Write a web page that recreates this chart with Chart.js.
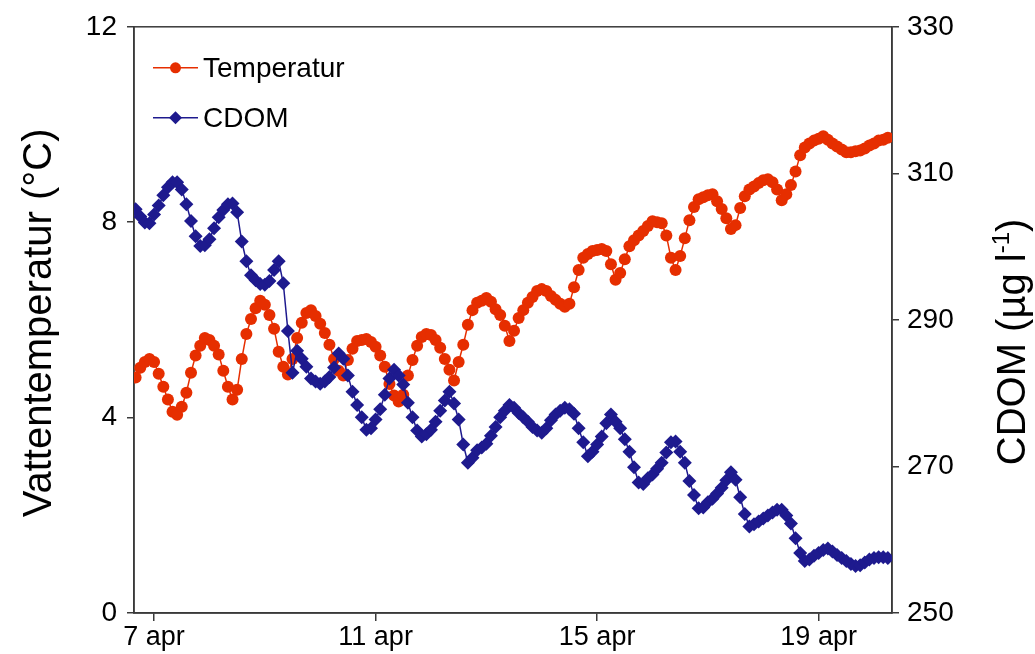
<!DOCTYPE html>
<html lang="sv">
<head>
<meta charset="UTF-8">
<title>Vattentemperatur och CDOM</title>
<script src="https://cdn.jsdelivr.net/npm/chart.js@4"></script>
<style>
  html, body { margin: 0; padding: 0; background: #fff; }
  #wrap { width: 1035px; height: 654px; }
</style>
</head>
<body>
<div id="wrap"><canvas id="chart" width="1035" height="654"></canvas></div>
<script>
// logger samples every 2 h, hours counted from 7 apr 00:00
const startHour = -8;
const stepHours = 2;

const tickHours = [0, 96, 192, 288];
const tickLabels = ['7 apr', '11 apr', '15 apr', '19 apr'];

// water temperature, °C
const temperature = [
  4.82, 5.02, 5.14, 5.20, 5.14, 4.90, 4.63, 4.37, 4.12, 4.06,
  4.22, 4.51, 4.92, 5.27, 5.47, 5.63, 5.59, 5.47, 5.29, 4.96,
  4.63, 4.37, 4.57, 5.20, 5.71, 6.02, 6.24, 6.39, 6.31, 6.10,
  5.82, 5.35, 5.04, 4.88, 5.20, 5.63, 5.94, 6.14, 6.20, 6.08,
  5.92, 5.73, 5.49, 5.20, 4.96, 4.86, 5.18, 5.41, 5.57, 5.59,
  5.61, 5.55, 5.45, 5.27, 5.04, 4.69, 4.45, 4.33, 4.47, 4.86,
  5.18, 5.47, 5.65, 5.71, 5.69, 5.59, 5.43, 5.20, 4.98, 4.76,
  5.14, 5.49, 5.90, 6.20, 6.35, 6.39, 6.45, 6.37, 6.22, 6.10,
  5.88, 5.57, 5.78, 6.04, 6.20, 6.35, 6.47, 6.59, 6.63, 6.59,
  6.49, 6.41, 6.33, 6.27, 6.33, 6.67, 7.02, 7.27, 7.35, 7.41,
  7.43, 7.45, 7.41, 7.14, 6.82, 6.96, 7.24, 7.51, 7.63, 7.73,
  7.82, 7.92, 8.02, 8.00, 7.98, 7.73, 7.27, 7.02, 7.31, 7.67,
  8.04, 8.31, 8.47, 8.51, 8.55, 8.57, 8.43, 8.27, 8.08, 7.86,
  7.94, 8.29, 8.53, 8.67, 8.73, 8.80, 8.86, 8.88, 8.82, 8.67,
  8.45, 8.57, 8.76, 9.04, 9.37, 9.53, 9.61, 9.67, 9.71, 9.76,
  9.69, 9.61, 9.55, 9.49, 9.43, 9.43, 9.45, 9.47, 9.51, 9.57,
  9.61, 9.67, 9.69, 9.73
];

// CDOM, µg/l
const cdom = [
  305.1, 304.1, 303.3, 303.2, 304.4, 305.6, 307.0, 308.1, 308.8, 308.8,
  307.8, 305.8, 303.5, 301.4, 300.1, 300.2, 301.0, 302.5, 304.0, 305.0,
  305.8, 305.9, 304.7, 300.7, 298.0, 296.1, 295.4, 294.9, 294.8, 295.3,
  296.8, 298.0, 295.0, 288.5, 282.8, 285.8, 284.7, 283.6, 282.0, 281.6,
  281.3, 281.6, 282.2, 283.5, 285.4, 284.7, 282.4, 280.2, 278.4, 276.7,
  275.0, 275.2, 276.4, 277.8, 279.8, 282.0, 283.2, 282.4, 281.2, 278.7,
  276.7, 274.9, 274.1, 274.4, 275.0, 276.1, 277.6, 279.0, 280.2, 278.6,
  276.4, 273.0, 270.5, 271.2, 272.2, 272.6, 273.1, 274.2, 275.4, 276.7,
  277.6, 278.4, 278.0, 277.3, 276.7, 276.1, 275.4, 274.9, 274.6, 275.2,
  276.3, 277.1, 277.6, 278.0, 277.8, 277.2, 275.2, 273.3, 271.4, 272.0,
  273.0, 274.1, 275.9, 277.1, 276.1, 275.2, 273.7, 272.0, 269.9, 267.8,
  267.6, 268.4, 268.9, 269.7, 270.5, 271.9, 273.3, 273.4, 272.0, 270.5,
  268.0, 266.1, 264.3, 264.4, 265.1, 265.6, 266.3, 267.1, 268.1, 269.2,
  268.2, 265.8, 263.5, 261.8, 262.1, 262.5, 262.9, 263.3, 263.7, 264.1,
  264.1, 263.3, 262.2, 260.2, 258.2, 257.1, 257.3, 257.8, 258.2, 258.6,
  258.8, 258.4, 257.9, 257.5, 257.1, 256.7, 256.4, 256.5, 256.9, 257.3,
  257.5, 257.6, 257.6, 257.5
];

const hours = temperature.map((_, i) => startHour + i * stepHours);

const FONT = '"Liberation Sans", Arial, Helvetica, sans-serif';
const AXIS = '#3a3a3a';
const RED = '#e62e00';
const BLUE = '#1e1a8e';

// full box around the plot area
const frame = {
  id: 'frame',
  beforeDatasetsDraw(chart) {
    const { ctx, chartArea: a } = chart;
    ctx.save();
    ctx.strokeStyle = AXIS;
    ctx.lineWidth = 1.5;
    ctx.strokeRect(a.left, a.top, a.right - a.left, a.bottom - a.top);
    ctx.restore();
  }
};

// legend in the upper left corner of the plot: line + marker + name
const legendBox = {
  id: 'legendBox',
  afterDraw(chart) {
    const { ctx, chartArea: a } = chart;
    chart.data.datasets.forEach((ds, i) => {
      const y = a.top + 41 + i * 50;
      const x0 = a.left + 19;
      ctx.save();
      ctx.strokeStyle = ds.borderColor;
      ctx.lineWidth = 1.5;
      ctx.beginPath();
      ctx.moveTo(x0, y);
      ctx.lineTo(x0 + 45, y);
      ctx.stroke();
      ctx.fillStyle = ds.backgroundColor;
      Chart.helpers.drawPoint(ctx, { pointStyle: ds.pointStyle, radius: ds.pointRadius - 0.5, rotation: 0, borderWidth: 0 }, x0 + 22.5, y);
      ctx.fillStyle = '#000';
      ctx.font = '28px ' + FONT;
      ctx.textBaseline = 'middle';
      ctx.fillText(ds.label, x0 + 50, y + 1);
      ctx.restore();
    });
  }
};

// both axis titles read bottom to top
const axisTitles = {
  id: 'axisTitles',
  afterDraw(chart) {
    const { ctx, chartArea: a } = chart;
    const midY = (a.top + a.bottom) / 2;
    ctx.save();
    ctx.fillStyle = '#000';
    ctx.textBaseline = 'middle';

    ctx.save();
    ctx.translate(40, midY + 3);
    ctx.rotate(-Math.PI / 2);
    ctx.font = '40px ' + FONT;
    ctx.textAlign = 'center';
    ctx.fillText('Vattentemperatur (°C)', 0, 0);
    ctx.restore();

    // CDOM (µg l⁻¹) with a raised exponent
    const big = '40px ' + FONT;
    const small = '24px ' + FONT;
    const parts = [
      { t: 'CDOM (µg l', f: big, dy: 0 },
      { t: '-1', f: small, dy: -12 },
      { t: ')', f: big, dy: 0 }
    ];
    let total = 0;
    parts.forEach(p => { ctx.font = p.f; p.w = ctx.measureText(p.t).width; total += p.w; });
    ctx.translate(a.right + 122, midY + 22);
    ctx.rotate(-Math.PI / 2);
    ctx.textAlign = 'left';
    let x = -total / 2;
    parts.forEach(p => {
      ctx.font = p.f;
      ctx.fillText(p.t, x, p.dy);
      x += p.w;
    });
    ctx.restore();
  }
};

const tickFont = { family: FONT, size: 28 };

new Chart(document.getElementById('chart'), {
  type: 'line',
  data: {
    datasets: [
      {
        label: 'Temperatur',
        data: hours.map((h, i) => ({ x: h, y: temperature[i] })),
        yAxisID: 'y',
        borderColor: RED,
        backgroundColor: RED,
        borderWidth: 1.5,
        pointStyle: 'circle',
        pointRadius: 6,
        pointBorderWidth: 0,
        order: 2
      },
      {
        label: 'CDOM',
        data: hours.map((h, i) => ({ x: h, y: cdom[i] })),
        yAxisID: 'y1',
        borderColor: BLUE,
        backgroundColor: BLUE,
        borderWidth: 1.5,
        pointStyle: 'rectRot',
        pointRadius: 7,
        pointBorderWidth: 0,
        order: 1
      }
    ]
  },
  options: {
    responsive: false,
    animation: false,
    devicePixelRatio: 1,
    layout: { padding: { top: 25, left: 0, right: 0, bottom: 0 } },
    plugins: { legend: { display: false }, tooltip: { enabled: false } },
    scales: {
      x: {
        type: 'linear',
        min: -8.7,
        max: 319.8,
        afterBuildTicks: s => { s.ticks = tickHours.map(v => ({ value: v })); },
        afterFit: s => { s.height = 41; },
        ticks: {
          callback: (v, i) => tickLabels[i],
          font: { family: FONT, size: 27 },
          color: '#000',
          padding: 0,
          maxRotation: 0,
          autoSkip: false
        },
        grid: { drawOnChartArea: false, tickLength: 8, color: AXIS, lineWidth: 1.5 },
        border: { color: AXIS, width: 1.5 }
      },
      y: {
        position: 'left',
        min: 0,
        max: 12,
        afterFit: s => { s.width = 134; },
        ticks: { stepSize: 4, font: tickFont, color: '#000', padding: 10 },
        grid: { drawOnChartArea: false, tickLength: 7, color: AXIS, lineWidth: 1.5 },
        border: { color: AXIS, width: 1.5 }
      },
      y1: {
        position: 'right',
        min: 250,
        max: 330,
        afterFit: s => { s.width = 143; },
        ticks: { stepSize: 20, font: tickFont, color: '#000', padding: 8 },
        grid: { drawOnChartArea: false, tickLength: 7, color: AXIS, lineWidth: 1.5 },
        border: { color: AXIS, width: 1.5 }
      }
    }
  },
  plugins: [frame, legendBox, axisTitles]
});
</script>
</body>
</html>
